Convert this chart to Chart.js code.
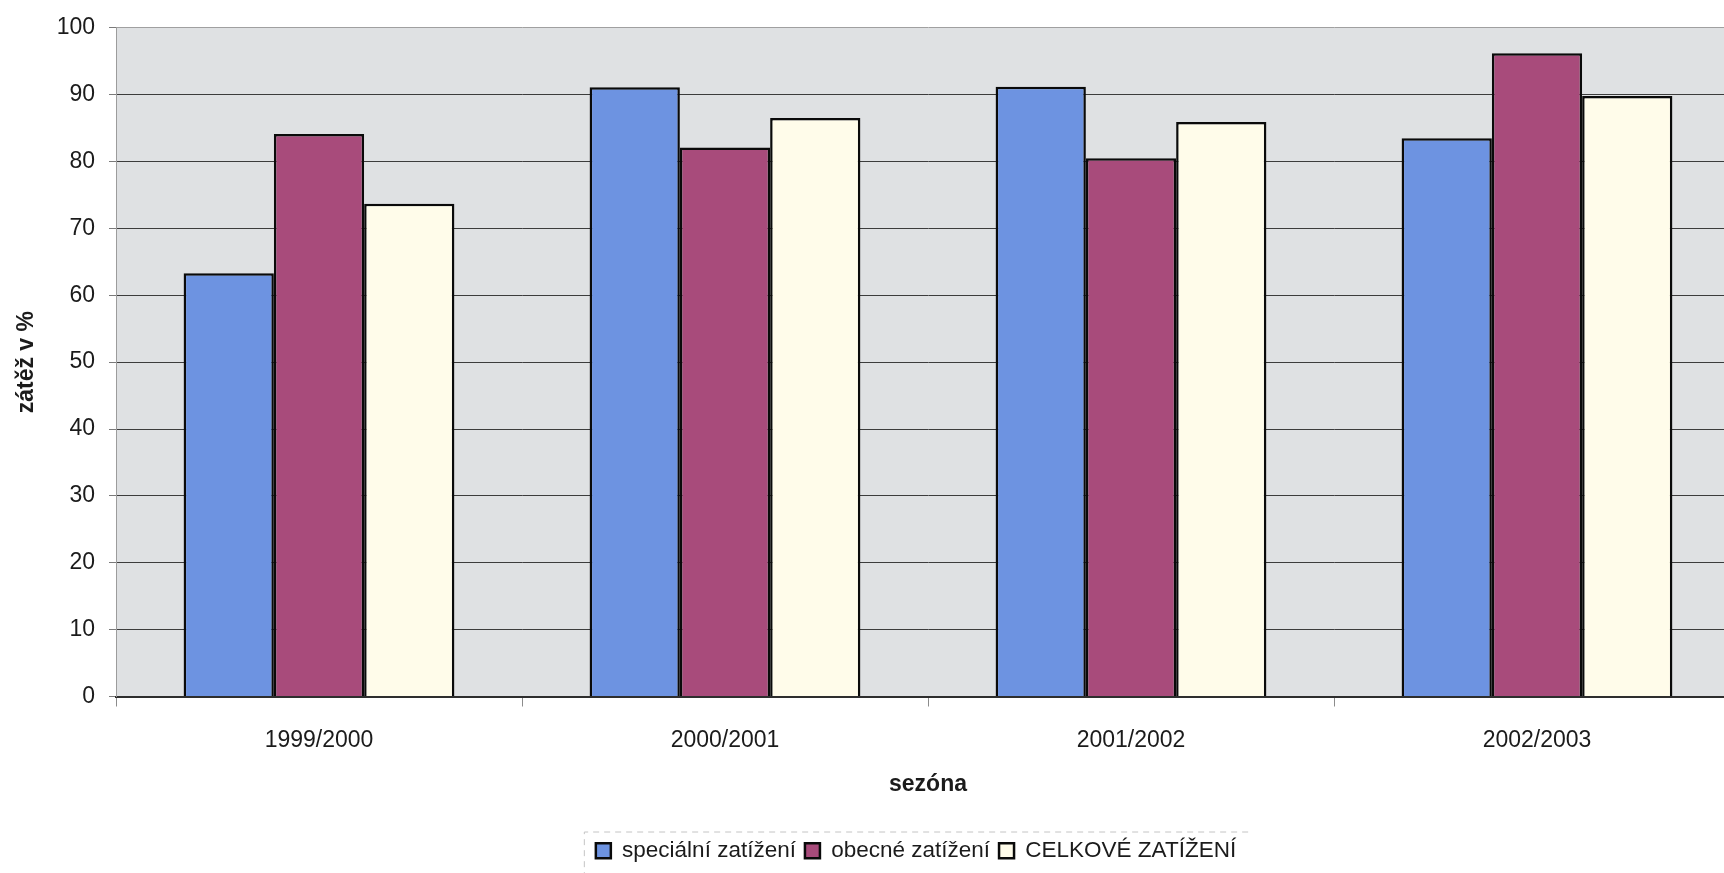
<!DOCTYPE html>
<html lang="cs">
<head>
<meta charset="utf-8">
<title>Zátěž v sezónách</title>
<script src="https://cdn.jsdelivr.net/npm/chart.js@4/dist/chart.umd.min.js"></script>
<style>
  html, body { margin: 0; padding: 0; background: #ffffff; overflow: hidden; }
  #wrap { width: 1760px; height: 873px; }
</style>
</head>
<body>
<div id="wrap"><canvas id="chart" width="1760" height="873"></canvas></div>
<script>
// Seasons on the x axis
const seasons = ['1999/2000', '2000/2001', '2001/2002', '2002/2003'];

// Load per season, in percent
const specialLoad = [63.3, 91.1, 91.2, 83.5];
const generalLoad = [84.1, 82.1, 80.5, 96.2];
const totalLoad   = [73.7, 86.5, 85.9, 89.8];

// Series names shown in the legend
const seriesNames = ['speciální zatížení', 'obecné zatížení', 'CELKOVÉ ZATÍŽENÍ'];

// Value axis range and step
const yMin = 0;
const yMax = 100;
const yStep = 10;

const FONT = '"Liberation Sans", Arial, "DejaVu Sans", sans-serif';
const TEXT = '#1b1b1b';

// Grey plot area and a faint frame around the legend
const plotBackground = {
  id: 'plotBackground',
  beforeDraw(chart) {
    const { ctx, chartArea: a } = chart;
    ctx.save();
    ctx.fillStyle = '#dfe1e3';
    ctx.fillRect(a.left, a.top, a.right - a.left, a.bottom - a.top);
    ctx.restore();
  },
  afterLayout(chart) {
    // centre the legend under the printed part of the plot
    const lg = chart.legend;
    const shift = 46;
    lg.left += shift;
    lg.right += shift;
  },
  afterDraw(chart) {
    const lg = chart.legend;
    if (!lg || !lg.legendHitBoxes || !lg.legendHitBoxes.length) return;
    const boxes = lg.legendHitBoxes;
    const x0 = boxes[0].left - 12;
    const x1 = boxes[boxes.length - 1].left + boxes[boxes.length - 1].width + 12;
    const y0 = lg.top + 1;
    const { ctx } = chart;
    ctx.save();
    ctx.strokeStyle = '#c4c4c4';
    ctx.lineWidth = 1;
    ctx.setLineDash([6, 5]);
    ctx.beginPath();
    ctx.moveTo(x1, y0 + 0.5);
    ctx.lineTo(x0 + 0.5, y0 + 0.5);
    ctx.lineTo(x0 + 0.5, chart.height);
    ctx.stroke();
    ctx.restore();
  }
};

new Chart(document.getElementById('chart'), {
  type: 'bar',
  data: {
    labels: seasons,
    datasets: [
      { label: seriesNames[0], data: specialLoad, backgroundColor: '#6d93e1', borderColor: '#0a0a0a', borderWidth: 2.5 },
      { label: seriesNames[1], data: generalLoad, backgroundColor: '#a84b7b', borderColor: '#0a0a0a', borderWidth: 2.5 },
      { label: seriesNames[2], data: totalLoad,   backgroundColor: '#fffcea', borderColor: '#0a0a0a', borderWidth: 2.5 }
    ]
  },
  options: {
    responsive: false,
    animation: false,
    layout: { padding: { top: 24, left: 0, right: 20, bottom: 1 } },
    datasets: { bar: { categoryPercentage: 0.667, barPercentage: 1.0 } },
    plugins: {
      tooltip: { enabled: false },
      legend: {
        position: 'bottom',
        labels: {
          font: { family: FONT, size: 22.5 },
          color: TEXT,
          boxWidth: 15,
          boxHeight: 15,
          padding: 9
        }
      }
    },
    scales: {
      x: {
        afterFit(scale) { scale.height = 134; },
        grid: {
          display: true,
          drawOnChartArea: false,
          offset: true,
          tickLength: 10,
          tickColor: '#8c8c8c'
        },
        border: { display: true, color: '#2e2e2e', width: 2 },
        ticks: {
          font: { family: FONT, size: 23 },
          color: TEXT,
          padding: 20,
          maxRotation: 0
        },
        title: {
          display: true,
          text: 'sezóna',
          font: { family: FONT, size: 23, weight: 'bold' },
          color: TEXT,
          padding: { top: 0, bottom: 32 }
        }
      },
      y: {
        min: yMin,
        max: yMax,
        afterFit(scale) { scale.width = 116; },
        grid: {
          color: ctx => (ctx.tick && ctx.tick.value === yMax) ? '#a0a0a0' : '#3c3c3c',
          lineWidth: 1,
          tickLength: 7,
          tickColor: '#7a7a7a'
        },
        border: { display: true, color: '#9c9c9c', width: 1 },
        ticks: {
          stepSize: yStep,
          font: { family: FONT, size: 23 },
          color: TEXT,
          padding: 14
        },
        title: {
          display: true,
          text: 'zátěž v %',
          font: { family: FONT, size: 23, weight: 'bold' },
          color: TEXT,
          padding: { top: 13, bottom: 0 }
        }
      }
    }
  },
  plugins: [plotBackground]
});
</script>
</body>
</html>
